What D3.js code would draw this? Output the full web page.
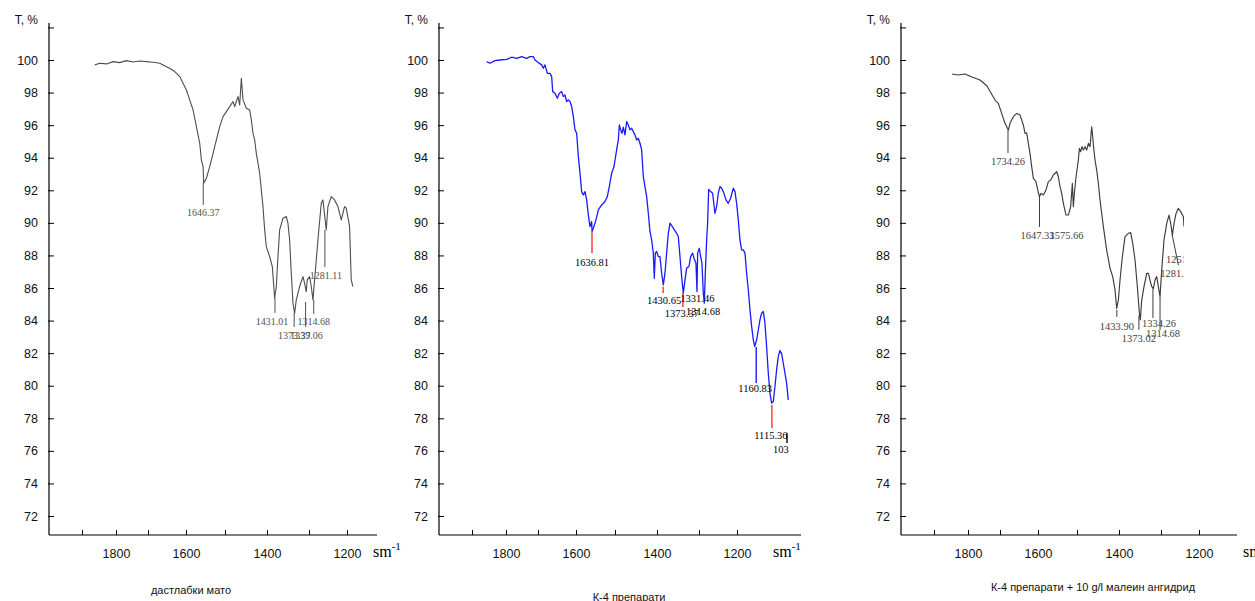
<!DOCTYPE html>
<html><head><meta charset="utf-8">
<script src="https://cdn.jsdelivr.net/npm/d3@7"></script>
<style>body{margin:0;background:#fff}svg{display:block}</style>
</head><body>
<svg id="c" width="1255" height="601"></svg>
<script>
// ---------- DATA ----------
const yTickValues = [72,74,76,78,80,82,84,86,88,90,92,94,96,98,100,102];
const xTickValues = [1900,1800,1700,1600,1500,1400,1300,1200];
const xTickLabels = [1800,1600,1400,1200];
const yTitle = "T, %";
const xUnit = "sm";
const captions = ["дастлабки мато", "К-4 препарати", "К-4 препарати + 10 g/l малеин ангидрид"];

// panel 1: initial fabric
const p1Wave = [1972,1957,1937,1917,1897,1877,1857,1837,1817,1797,1777,1757,1747,1732,1717,1707,1697,1687,1677,1667,1657,1652,1647,1645,1637,1627,1617,1607,1597,1587,1577,1567,1557,1552,1547,1542,1537,1532,1527,1517,1507,1502,1497,1492,1487,1477,1467,1462,1457,1447,1439,1432,1427,1422,1417,1407,1397,1392,1387,1382,1377,1372,1367,1357,1347,1342,1337,1334,1327,1322,1317,1312,1302,1292,1287,1277,1272,1262,1252,1242,1232,1222,1217,1207,1202,1197];
const p1T = [99.70,99.80,99.76,99.90,99.84,99.96,99.88,99.94,99.90,99.86,99.80,99.59,99.49,99.29,98.98,98.57,98.16,97.55,96.93,95.91,94.89,93.86,93.45,92.43,92.74,93.45,94.27,95.09,95.91,96.52,96.83,97.14,97.45,97.14,97.45,97.75,97.24,98.88,97.55,97.04,96.93,96.32,95.50,95.09,94.27,93.05,91.00,89.57,88.54,87.93,87.32,85.37,86.09,87.93,89.57,90.28,90.39,89.98,88.95,86.91,85.07,84.45,85.27,86.09,86.70,86.29,85.78,86.50,86.70,86.09,85.27,86.50,88.95,91.20,91.41,89.57,91.00,91.61,91.41,91.00,90.18,91.00,90.90,89.77,86.50,86.09];
const p1Peaks = [1646.37,1431.01,1373.37,1339.06,1314.68,1281.11];

// panel 2: K-4 preparation
const p2Wave = [1942.1,1932.4,1918.0,1903.5,1884.1,1869.7,1855.2,1840.7,1826.2,1816.5,1806.9,1802.0,1792.4,1782.7,1777.9,1773.0,1766.3,1758.6,1753.7,1750.8,1744.1,1737.3,1731.5,1724.8,1719.9,1715.1,1710.3,1705.4,1700.6,1695.8,1690.9,1686.1,1681.3,1676.4,1671.6,1666.8,1661.9,1657.1,1652.3,1647.5,1642.6,1637.8,1636.8,1633.0,1625.3,1618.5,1608.8,1599.2,1592.4,1586.6,1579.8,1573.1,1565.4,1560.5,1557.6,1553.8,1549.9,1546.0,1541.2,1536.4,1531.6,1526.7,1521.9,1517.1,1512.2,1507.4,1502.6,1497.7,1492.9,1488.1,1483.3,1478.4,1473.6,1468.8,1463.9,1459.1,1456.2,1453.3,1449.4,1444.6,1439.8,1434.9,1430.1,1425.3,1420.5,1415.6,1410.8,1401.1,1391.5,1386.7,1381.8,1377.0,1372.2,1367.3,1362.5,1355.7,1350.9,1345.1,1341.2,1335.5,1332.5,1330.6,1325.8,1321.9,1318.1,1314.2,1311.3,1308.4,1304.5,1301.7,1298.7,1293.0,1287.2,1280.4,1275.6,1270.7,1265.9,1261.1,1256.2,1248.5,1241.8,1235.0,1227.3,1222.4,1217.6,1212.8,1207.9,1203.1,1198.3,1193.4,1188.6,1183.8,1178.9,1174.1,1169.3,1165.4,1159.6,1154.8,1150.0,1145.2,1140.3,1135.5,1130.7,1125.8,1121.0,1116.2,1111.3,1106.5,1101.7,1096.9,1092.0,1087.2,1082.4,1077.5,1072.7,1067.9];
const p2T = [99.90,99.80,99.96,100.00,100.04,100.17,100.10,100.21,100.10,100.21,100.21,100.00,99.84,99.70,99.49,99.70,99.18,99.18,98.98,98.06,97.96,97.65,97.96,98.06,97.75,97.85,97.45,97.55,97.45,97.14,96.52,95.71,95.50,94.07,93.05,91.92,91.72,91.92,91.41,90.49,89.77,90.08,89.47,89.67,90.18,90.80,91.10,91.31,91.61,92.23,93.05,93.46,94.48,95.09,96.01,95.71,95.50,95.87,95.40,96.22,96.01,95.71,95.81,95.60,95.40,95.09,95.19,94.89,94.48,92.84,92.23,91.61,90.59,89.47,88.95,88.14,86.60,88.14,88.24,87.93,87.93,86.91,86.19,86.91,88.14,89.36,89.98,89.67,89.36,89.16,87.93,86.70,85.68,86.50,87.22,87.32,87.93,88.14,87.83,87.52,85.78,88.14,88.44,87.93,87.52,85.68,85.07,86.91,88.95,89.98,92.06,91.92,91.82,90.59,91.00,91.82,92.23,92.13,91.92,91.41,91.20,91.51,92.13,91.92,91.20,90.18,88.95,88.34,88.34,88.14,86.91,85.89,84.66,83.64,82.82,82.41,82.82,83.43,84.04,84.45,84.56,83.84,82.41,80.77,79.54,78.93,79.03,79.95,80.97,81.79,82.16,81.99,81.38,80.77,80.16,79.13];
const p2Peaks = [1636.81,1430.65,1373.37,1331.46,1314.68,1160.83,1115.36,1071.6];
const p2PeakTexts = ["1636.81","1430.65","1373.37","1331.46","1314.68","1160.83","1115.36","103"];

// panel 3: K-4 + 10 g/l maleic anhydride
const p3Wave = [1888.8,1872.2,1852.9,1833.6,1811.5,1792.2,1770.1,1760.9,1751.7,1742.5,1733.3,1728.7,1719.5,1710.3,1701.1,1691.9,1687.3,1682.7,1678.1,1673.5,1668.9,1664.3,1657.0,1652.3,1647.7,1643.1,1636.7,1629.3,1622.9,1616.5,1609.1,1599.9,1595.3,1590.7,1586.1,1581.5,1574.1,1567.7,1561.3,1556.7,1553.9,1551.1,1546.5,1540.1,1537.3,1533.7,1530.0,1526.3,1521.7,1517.1,1512.5,1507.9,1503.3,1500.5,1498.7,1494.1,1489.5,1484.9,1480.3,1471.1,1461.9,1452.7,1445.3,1438.9,1434.3,1429.7,1425.1,1418.7,1411.3,1402.1,1395.7,1390.1,1383.7,1377.3,1371.7,1369.0,1365.3,1358.9,1351.5,1346.9,1342.3,1337.7,1333.1,1328.5,1323.9,1319.3,1314.7,1310.1,1303.7,1296.3,1289.9,1285.3,1280.7,1276.1,1270.5,1264.1,1257.7,1250.3,1248.5];
const p3T = [99.14,99.08,99.14,98.96,98.77,98.40,97.54,97.34,96.72,96.11,95.70,96.11,96.52,96.72,96.62,96.01,95.49,95.53,94.88,94.27,93.45,92.73,92.53,92.02,91.61,91.81,91.71,92.02,92.53,92.63,92.94,93.14,92.83,92.22,91.81,91.20,90.48,90.48,90.99,92.43,90.99,91.81,92.83,93.86,94.57,94.37,94.68,94.47,94.68,94.47,94.88,94.68,95.90,95.29,94.78,93.86,93.24,92.43,91.40,89.77,88.33,87.21,86.70,85.88,84.75,85.26,86.49,87.92,89.15,89.36,89.40,88.74,87.72,86.08,84.45,84.04,85.26,86.08,86.90,86.90,86.49,86.08,85.98,86.49,86.70,86.08,85.47,87.11,88.95,89.97,90.48,89.97,89.25,89.97,90.58,90.89,90.69,90.38,89.77];
const p3Peaks = [1734.26,1647.33,1575.66,1433.90,1373.02,1334.26,1314.68,1281.11,1251.38];

// ---------- LAYOUT (label anchors, in T units / px offsets) ----------
// each: line from t0 to t1 at the peak (null = no line), text baseline at ty, dx text shift, optional w2 = slanted line end
const p1Ann = [
  {t0:92.45,t1:91.10,ty:90.40,dx:0},
  {t0:85.39,t1:84.47,ty:83.75,dx:-3},
  {t0:84.47,t1:83.61,ty:82.85,dx:0},
  {t0:85.14,t1:83.61,ty:82.85,dx:1},
  {t0:85.27,t1:84.41,ty:83.75,dx:0},
  {t0:89.56,t1:87.29,ty:86.55,dx:1}
];
const p2Ann = [
  {t0:89.44,t1:88.15,ty:87.35,dx:0,c:"#ff3030"},
  {t0:86.07,t1:85.70,ty:85.02,dx:1,c:"#ff3030"},
  {t0:85.70,t1:84.84,ty:84.22,dx:-1,c:"#ff3030"},
  {t0:null,t1:null,ty:85.14,dx:0,c:"#1a1aff"},
  {t0:null,t1:null,ty:84.35,dx:0,c:"#1a1aff"},
  {t0:82.38,t1:80.17,ty:79.62,dx:-1,c:"#1a1aff"},
  {t0:78.82,t1:77.41,ty:76.73,dx:-1,c:"#ff3030"},
  {t0:77.10,t1:76.49,ty:75.87,dx:-6,c:"#000"}
];
const p3Ann = [
  {t0:95.70,t1:94.29,ty:93.55,dx:0},
  {t0:91.59,t1:89.75,ty:89.01,dx:-2},
  {t0:null,t1:null,ty:89.01,dx:1},
  {t0:84.65,t1:84.22,ty:83.43,dx:0},
  {t0:84.30,t1:83.43,ty:82.69,dx:0},
  {t0:86.07,t1:84.16,ty:83.61,dx:6},
  {t0:85.46,t1:83.43,ty:83.00,dx:3},
  {t0:89.25,t1:87.40,ty:86.68,dx:5,w2:1264},
  {t0:null,t1:null,ty:87.55,dx:0}
];

// ---------- DRAW ----------
const svg = d3.select("#c");
const font = "'Liberation Sans', Arial, sans-serif";
const serif = "'Liberation Serif', 'Times New Roman', serif";
const axisY = 535;
const y = d3.scaleLinear().domain([72,100]).range([516,60]);
const tickOffsets = [33,67,99,137,176,218,260,298];

const panels = [
  {axisX:49, axisEnd:377, spec:[2000,1200,85.5,351.9], wave:p1Wave, t:p1T, peaks:p1Peaks,
   texts:p1Peaks.map(d=>d.toFixed(2)), ann:p1Ann, color:"#4d4d4d", lw:1.1, lab:"#505050", labSize:10,
   cap:captions[0], capX:191, capY:594, unitX:373, clip:null},
  {axisX:439, axisEnd:801, spec:[2000,1000,466.7,811.7], wave:p2Wave, t:p2T, peaks:p2Peaks,
   texts:p2PeakTexts, ann:p2Ann, color:"#1a1aff", lw:1.3, lab:"#000", labSize:10.5,
   cap:captions[1], capX:629, capY:601, unitX:773, clip:null},
  {axisX:901, axisEnd:1237, spec:[2000,1200,911.7,1201.6], wave:p3Wave, t:p3T, peaks:p3Peaks,
   texts:p3Peaks.map(d=>d.toFixed(2)), ann:p3Ann, color:"#3c3c3c", lw:1.15, lab:"#444", labSize:10.5,
   cap:captions[2], capX:1093, capY:591, unitX:1243, clip:1184}
];

const defs = svg.append("defs");

panels.forEach((p, i) => {
  const g = svg.append("g");
  // axis tick scale (piecewise)
  const xa = d3.scaleLinear().domain(xTickValues).range(tickOffsets.map(o => p.axisX + o));
  const xs = d3.scaleLinear().domain([p.spec[0], p.spec[1]]).range([p.spec[2], p.spec[3]]);

  // axes lines
  g.append("line").attr("x1", p.axisX).attr("x2", p.axisX).attr("y1", 23).attr("y2", axisY)
    .attr("stroke", "#000").attr("stroke-width", 1.2);
  g.append("line").attr("x1", p.axisX).attr("x2", p.axisEnd).attr("y1", axisY).attr("y2", axisY)
    .attr("stroke", "#000").attr("stroke-width", 1.2);

  const ya = g.append("g").attr("transform", `translate(${p.axisX},0)`)
    .call(d3.axisLeft(y).tickValues(yTickValues).tickSize(-5).tickPadding(11)
      .tickFormat(d => d <= 100 ? d : ""));
  ya.select(".domain").remove();
  ya.selectAll("line").attr("stroke", "#000").attr("x1", -1);
  ya.selectAll("text").attr("font-family", font).attr("font-size", 12.5).attr("fill", "#111");

  const xg = g.append("g").attr("transform", `translate(0,${axisY})`)
    .call(d3.axisBottom(xa).tickValues(xTickValues).tickSize(-5).tickPadding(14)
      .tickFormat(d => xTickLabels.includes(d) ? d : ""));
  xg.select(".domain").remove();
  xg.selectAll("line").attr("stroke", "#000");
  xg.selectAll("text").attr("font-family", font).attr("font-size", 12.5).attr("fill", "#111");

  // y title
  g.append("text").attr("x", p.axisX - 11).attr("y", 24).attr("text-anchor", "end")
    .attr("font-family", font).attr("font-size", 12).attr("fill", "#111").text(yTitle);

  // unit label sm^-1
  const u = g.append("text").attr("x", p.unitX).attr("y", 557)
    .attr("font-family", serif).attr("font-size", 16).attr("fill", "#000");
  u.append("tspan").text(xUnit);
  u.append("tspan").attr("dy", -7).attr("font-size", 11).text("-1");

  // caption
  g.append("text").attr("x", p.capX).attr("y", p.capY).attr("text-anchor", "middle")
    .attr("font-family", font).attr("font-size", 11).attr("fill", "#111").text(p.cap);

  // spectrum
  const sg = g.append("g");
  if (p.clip) {
    defs.append("clipPath").attr("id", "clip" + i).append("rect")
      .attr("x", 0).attr("y", 0).attr("width", p.clip).attr("height", 601);
    sg.attr("clip-path", `url(#clip${i})`);
  }
  const n = Math.min(p.wave.length, p.t.length);
  const pts = d3.range(n).map(k => ({w: p.wave[k], t: p.t[k]}));
  sg.append("path").datum(pts)
    .attr("d", d3.line().x(d => xs(d.w)).y(d => y(d.t)))
    .attr("fill", "none").attr("stroke", p.color).attr("stroke-width", p.lw)
    .attr("stroke-linejoin", "round");

  // peak labels
  p.peaks.forEach((w, k) => {
    const a = p.ann[k];
    const x = xs(w);
    if (a.t0 !== null) {
      sg.append("line").attr("x1", x).attr("x2", a.w2 ? xs(a.w2) : x)
        .attr("y1", y(a.t0)).attr("y2", y(a.t1))
        .attr("stroke", a.c || p.color).attr("stroke-width", a.c ? 1.4 : 1);
    }
    sg.append("text").attr("x", x + a.dx).attr("y", y(a.ty)).attr("text-anchor", "middle")
      .attr("font-family", serif).attr("font-size", p.labSize).attr("fill", p.lab)
      .text(p.texts[k]);
  });
});
</script>
</body></html>
